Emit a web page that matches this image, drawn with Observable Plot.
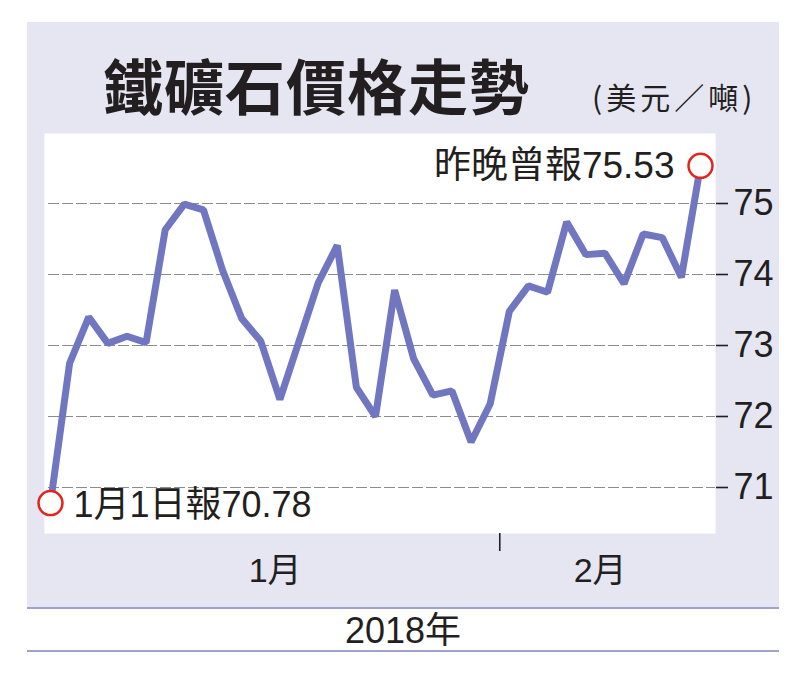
<!DOCTYPE html>
<html>
<head>
<meta charset="utf-8">
<script src="https://cdn.jsdelivr.net/npm/d3@7"></script>
<script src="https://cdn.jsdelivr.net/npm/@observablehq/plot@0.6"></script>
<style>
  body { margin:0; background:#fff; }
  #wrap { position:relative; width:800px; height:682px; overflow:hidden; font-family:"Liberation Sans","Noto Sans CJK TC",sans-serif; color:#231f20; }
  .abs { position:absolute; }
</style>
</head>
<body>
<div id="wrap">
  <div class="abs" style="left:27px;top:22px;width:752px;height:586px;background:#e6e6f2"></div>
  <div class="abs" style="left:27px;top:607px;width:752px;height:2px;background:#9ea3cb"></div>
  <div class="abs" style="left:27px;top:650px;width:752px;height:2px;background:#9ea3cb"></div>
  <div id="title" class="abs" style="left:103px;top:54px;font:700 60px/60px 'Noto Sans CJK TC',sans-serif;letter-spacing:1px;white-space:nowrap"></div>
  <div id="unit" class="abs" style="left:592px;top:81px;font:400 30px/30px 'Noto Sans CJK TC',sans-serif;letter-spacing:4px;white-space:nowrap"></div>
  <div id="chart" class="abs" style="left:0;top:0"></div>
  <div id="year" class="abs" style="left:27px;top:611px;width:752px;text-align:center;font:400 36px/40px 'Liberation Sans','Noto Sans CJK TC',sans-serif"></div>
</div>
<script>
// ---- text ----
const titleText = "鐵礦石價格走勢";
const unitText = "(美元／噸)";
const yearText = "2018年";
const monthLabels = ["1月", "2月"];
const startLabel = "1月1日報";
const endLabel = "昨晚曾報";

// ---- data: trading-day slot and price (US$/tonne) ----
const slots = [0,1,2,3,4,5,6,7,8,9,10,11,12,
               14,15,16,17,18,19,20,21,22,23,
               24,25,26,27,28,29,30,31,32,33,34];
const prices = [70.78,72.75,73.40,73.03,73.13,73.04,74.63,74.99,74.91,74.06,73.38,73.06,72.24,
                73.88,74.41,72.41,72.00,73.78,72.81,72.30,72.36,71.64,72.18,
                73.48,73.84,73.75,74.74,74.28,74.30,73.87,74.57,74.52,73.96,75.53];
const monthBoundary = 23.5;   // between last January slot and first February slot
const yTicks = [71, 72, 73, 74, 75];

const data = slots.map((s, i) => ({slot: s, price: prices[i]}));
const first = data[0], last = data[data.length - 1];
const slotMin = d3.min(slots), slotMax = d3.max(slots);
const monthCenters = [(slotMin + monthBoundary) / 2, (monthBoundary + slotMax) / 2];

document.getElementById("title").textContent = titleText;
document.getElementById("unit").textContent = unitText;
document.getElementById("year").textContent = yearText;

const numFont = "'Liberation Sans Narrow','Liberation Sans','Noto Sans CJK TC',sans-serif";
const labelFont = "'Liberation Sans','Noto Sans CJK TC',sans-serif";

const chart = Plot.plot({
  width: 800,
  height: 610,
  marginLeft: 44,
  marginRight: 85,
  marginTop: 133,
  marginBottom: 77,
  style: {background: "transparent", overflow: "visible", color: "#231f20"},
  x: {domain: [slotMin, slotMax], insetLeft: 6, insetRight: 15},
  y: {domain: [71, 75], insetTop: 70, insetBottom: 46},
  marks: [
    Plot.frame({fill: "white", stroke: null}),
    Plot.ruleY(yTicks, {stroke: "#8c8c8c", strokeWidth: 1.2, strokeDasharray: "11,3", insetLeft: 4}),
    Plot.axisY({anchor: "right", ticks: yTicks, tickSize: 12, tickPadding: 6, tickFormat: d => String(d),
      fontSize: 36, fontFamily: numFont, stroke: "#231f20", strokeWidth: 1.6, label: null}),
    Plot.axisX({ticks: monthCenters, tickSize: 0, tickPadding: 24, tickFormat: (d, i) => monthLabels[i],
      fontSize: 34, fontFamily: numFont, label: null}),
    Plot.axisX({ticks: [monthBoundary], tickSize: 18, tickFormat: () => "", stroke: "#231f20", strokeWidth: 1.6, label: null}),
    Plot.line(data, {x: "slot", y: "price", stroke: "#7076c0", strokeWidth: 7, strokeLinejoin: "miter"}),
    Plot.dot([first, last], {x: "slot", y: "price", r: 12, fill: "white", stroke: "#e3231d", strokeWidth: 2.5}),
    Plot.text([first], {x: "slot", y: "price", text: d => startLabel + d.price.toFixed(2), textAnchor: "start", dx: 23, dy: 2,
      fontSize: 36, fontFamily: labelFont, fill: "#231f20"}),
    Plot.text([last], {x: "slot", y: "price", text: d => endLabel + d.price.toFixed(2), textAnchor: "end", dx: -26, dy: 0,
      fontSize: 37, fontFamily: labelFont, fill: "#231f20"})
  ]
});
document.getElementById("chart").appendChild(chart);
</script>
</body>
</html>
